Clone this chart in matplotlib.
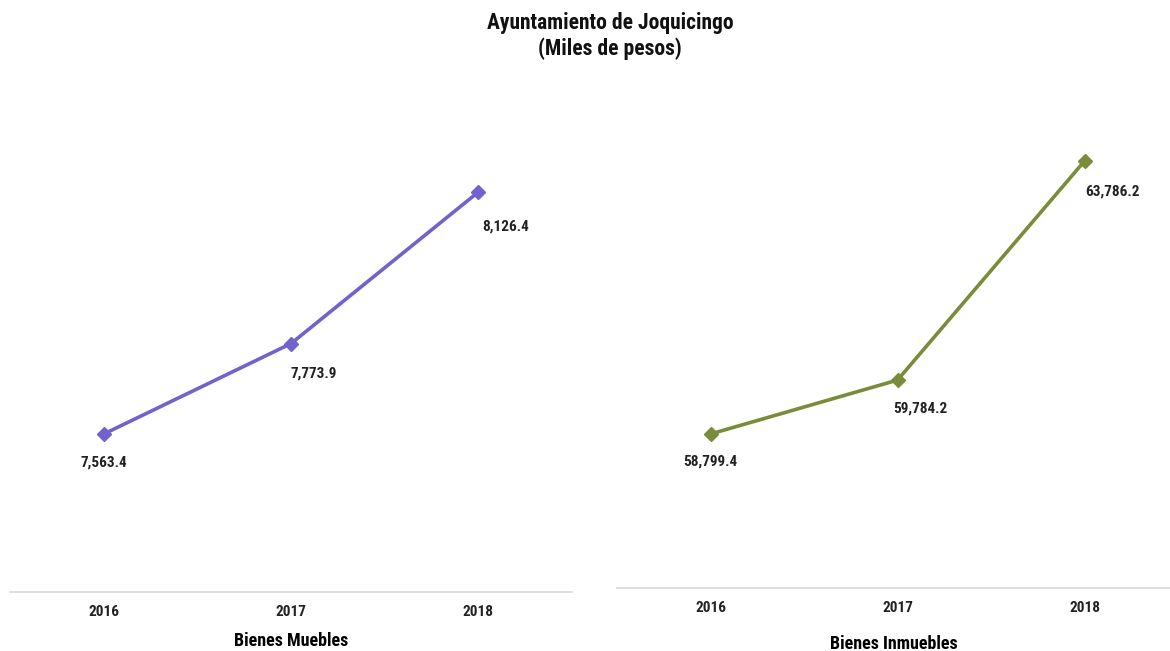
import matplotlib
matplotlib.use("Agg")
import matplotlib.pyplot as plt

years = ["2016", "2017", "2018"]
muebles = [7563.4, 7773.9, 8126.4]
inmuebles = [58799.4, 59784.2, 63786.2]

title = "Ayuntamiento de Joquicingo\n(Miles de pesos)"
label_left = "Bienes Muebles"
label_right = "Bienes Inmuebles"

plt.rcParams['font.family'] = ['Roboto Condensed', 'Liberation Sans Narrow', 'DejaVu Sans']

W, H = 1170, 651
fig = plt.figure(figsize=(W / 100, H / 100), dpi=100)
fig.patch.set_facecolor("white")

def px_axes(x0, x1, ybot, ytop):
    return fig.add_axes([x0 / W, (H - ybot) / H, (x1 - x0) / W, (ybot - ytop) / H])

def style(ax):
    for s in ["top", "right", "left"]:
        ax.spines[s].set_visible(False)
    ax.spines["bottom"].set_color("#d9d9d9")
    ax.spines["bottom"].set_linewidth(1.2)
    ax.set_yticks([])
    ax.tick_params(axis="x", length=0, pad=9, labelsize=11)
    for t in ax.get_xticklabels():
        t.set_fontweight("bold")
        t.set_color("#222222")

x = list(range(len(years)))

ax1 = px_axes(10, 572, 592, 80)
ax1.plot(x, muebles, color="#7262CC", lw=2.6, marker="D", markersize=7)
ax1.set_xlim(-0.5, 2.5)
ax1.set_ylim(7196, 8387)
ax1.set_xticks(x)
ax1.set_xticklabels(years)
style(ax1)
ax1.set_xlabel(label_left, fontsize=13, fontweight="bold", labelpad=10)
offs1 = [(0, -28), (23, -30), (27, -35)]
for xi, v, (dx, dy) in zip(x, muebles, offs1):
    ax1.annotate(f"{v:,.1f}", (xi, v), xytext=(dx, dy), textcoords="offset pixels",
                 ha="center", va="center", fontsize=11, fontweight="bold", color="#222222")

ax2 = px_axes(617, 1170, 588, 80)
ax2.plot(x, inmuebles, color="#7A8C3A", lw=2.6, marker="D", markersize=7)
ax2.set_xlim(-0.5, 2.457)
ax2.set_ylim(55986, 65266)
ax2.set_xticks(x)
ax2.set_xticklabels(years)
style(ax2)
ax2.set_xlabel(label_right, fontsize=13, fontweight="bold", labelpad=15)
offs2 = [(0, -28), (23, -28), (28, -31)]
for xi, v, (dx, dy) in zip(x, inmuebles, offs2):
    ax2.annotate(f"{v:,.1f}", (xi, v), xytext=(dx, dy), textcoords="offset pixels",
                 ha="center", va="center", fontsize=11, fontweight="bold", color="#222222")

fig.text(610 / W, 1 - 36 / H, title, ha="center", va="center", fontsize=15.5,
         fontweight="bold", color="#111111", linespacing=1.15)

fig.savefig("out.png", dpi=100, facecolor="white")
